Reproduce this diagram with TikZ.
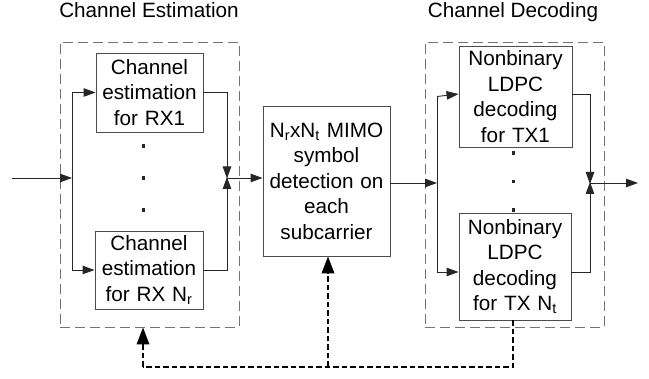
\documentclass[tikz,border=0pt]{standalone}
\usepackage{fontspec}
\setmainfont{Liberation Sans}
\usetikzlibrary{arrows.meta}
\begin{document}
\begin{tikzpicture}[x=1pt,y=-1pt,
  font=\fontsize{20.7}{25.5}\selectfont,
  block/.style={draw=black!70, line width=0.9pt, align=center, inner sep=0pt},
  group/.style={draw=black!55, line width=0.9pt, dash pattern=on 10pt off 5pt, inner sep=0pt},
  flow/.style={draw=black!85, line width=0.9pt},
  tip/.style={-{Triangle[length=12pt,width=8.5pt]}},
  fb/.style={draw=black, line width=1.8pt, dash pattern=on 5.5pt off 3pt},
  fbtip/.style={-{Triangle[length=17pt,width=12.5pt]}},
  dot/.style={fill=black!85}
]
\useasboundingbox (0,0) rectangle (649,379);

% dashed group frames
\node[group, minimum width=179pt, minimum height=285pt] (est) at (149.5,184.5) {};
\node[group, minimum width=179pt, minimum height=285pt] (dec) at (514.5,184.5) {};

% titles
\node[anchor=base] (estlbl) at (149,17.5) {Channel Estimation};
\node[anchor=base] (declbl) at (513,17.5) {Channel Decoding};

% processing blocks
\node[block, minimum width=107pt, minimum height=79pt, text width=105pt] (rx1) at (149.5,92.5)
  {Channel\\estimation\\for RX1};
\node[block, minimum width=108pt, minimum height=78pt, text width=106pt] (rxn) at (149,270)
  {Channel\\estimation\\for RX N\textsubscript{r}};
\node[block, minimum width=127pt, minimum height=150pt, text width=125pt] (mimo) at (326.5,181)
  {N\textsubscript{r}xN\textsubscript{t} MIMO\\symbol\\detection on\\each\\subcarrier};
\node[block, minimum width=113pt, minimum height=101pt, text width=111pt] (tx1) at (515.5,96.5)
  {Nonbinary\\LDPC\\decoding\\for TX1};
\node[block, minimum width=112pt, minimum height=107pt, text width=110pt] (txn) at (515,266.5)
  {Nonbinary\\LDPC\\decoding\\for TX N\textsubscript{t}};

% vertical ellipsis dots
\foreach \yy in {146,178,210} \fill[dot] (141.5,\yy-1.5) rectangle ++(3.2,3.2);
\foreach \yy in {153,181.5,210} \fill[dot] (512,\yy-1.5) rectangle ++(3.2,3.2);

% junction points
\coordinate (in)    at (12,178);
\coordinate (split) at (72,178);
\coordinate (merge) at (227,178);
\coordinate (dsplit) at (437,183);
\coordinate (dmerge) at (590,183);
\coordinate (out)   at (638,183);

% estimation stage
\draw[flow, tip] (in) -- (split);
\draw[flow] (split |- rx1.west) -- (split |- rxn.west);
\draw[flow, tip] (split |- rx1.west) -- (rx1.west);
\draw[flow, tip] (split |- rxn.west) -- (rxn.west);
\draw[flow, tip] (rx1.east) -| ([yshift=-0.5pt]merge);
\draw[flow, tip] (rxn.east) -| ([yshift=1pt]merge);
\draw[flow, tip] (merge) -- (mimo.west |- merge);

% decoding stage
\draw[flow, tip] (mimo.east |- dsplit) -- (dsplit);
\draw[flow] (dsplit |- tx1.west) -- (dsplit |- 0,272);
\draw[flow, tip] (dsplit |- tx1.west) -- (tx1.west |- 0,94);
\draw[flow, tip] (dsplit |- 0,272) -- (txn.west |- 0,272);
\draw[flow, tip] (tx1.east |- 0,94) -| ([yshift=-1pt]dmerge);
\draw[flow, tip] (txn.east |- 0,272) -| ([yshift=1pt]dmerge);
\draw[flow, tip] (dmerge) -- (out);

% feedback path
\coordinate (fbr) at (513,367);
\coordinate (fbm) at (328,367);
\coordinate (fbl) at (143,367);
\draw[fb] (txn.south -| fbr) -- (fbr) -- (fbl);
\draw[fb, fbtip] (fbl) -- (fbl |- est.south);
\draw[fb, fbtip] (fbm) -- (fbm |- mimo.south);
\end{tikzpicture}
\end{document}
